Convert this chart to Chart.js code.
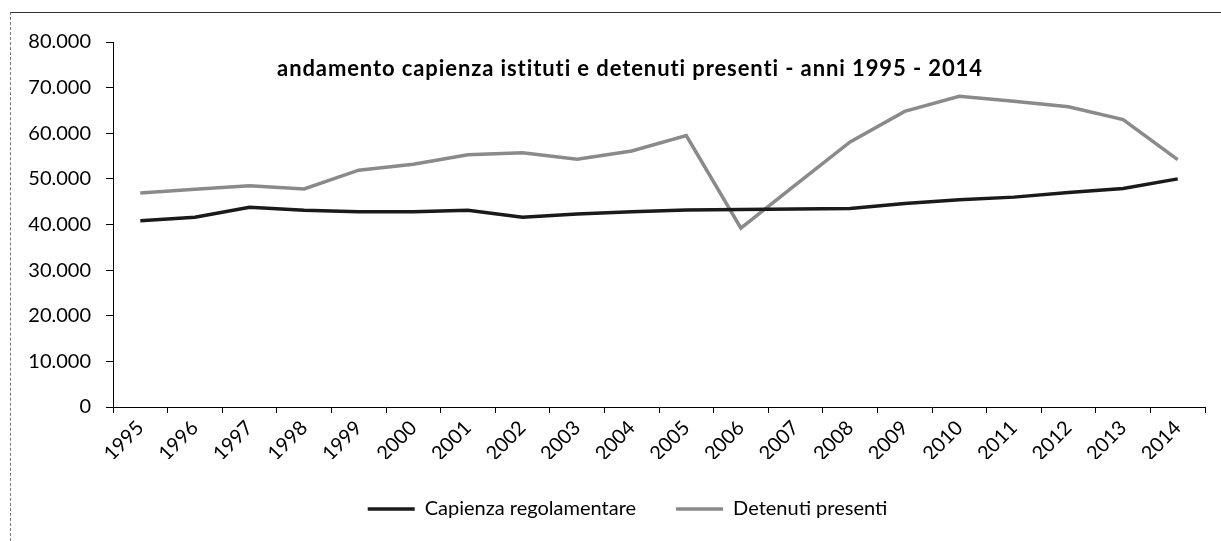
<!DOCTYPE html>
<html>
<head>
<meta charset="utf-8">
<script src="https://cdn.jsdelivr.net/npm/chart.js@4"></script>
<style>
    body { margin: 0; background: #fff; }
    #wrap { position: relative; width: 1221px; height: 541px; overflow: hidden; background: #fff; }
    #frame { position: absolute; left: 10px; top: 12px; right: -5px; bottom: -5px;
             border-left: 1px dashed #777; border-top: 1px solid #333; pointer-events: none; }
    #title { position: absolute; left: 130px; width: 1000px; top: 55px; text-align: center;
             font: bold 22px/26px Lato, "Open Sans", sans-serif; letter-spacing: 0.9px; color: #000; }
</style>
</head>
<body>
<div id="wrap">
    <canvas id="trendChart"></canvas>
    <div id="frame"></div>
    <div id="title">andamento capienza istituti e detenuti presenti - anni 1995 - 2014</div>
</div>
<script>
// anni
const years = ['1995', '1996', '1997', '1998', '1999', '2000', '2001', '2002', '2003', '2004',
               '2005', '2006', '2007', '2008', '2009', '2010', '2011', '2012', '2013', '2014'];

// Capienza regolamentare
const capienza = [40800, 41600, 43800, 43100, 42800, 42800, 43100, 41600, 42300, 42800,
                  43200, 43300, 43400, 43500, 44600, 45400, 46000, 47000, 47900, 50000];

// Detenuti presenti
const detenuti = [46900, 47700, 48500, 47800, 51900, 53200, 55300, 55700, 54300, 56100,
                  59500, 39200, 48700, 58100, 64800, 68100, 67000, 65800, 63000, 54200];

const yTicks = [0, 10000, 20000, 30000, 40000, 50000, 60000, 70000, 80000];

const labelFont = { family: 'Lato', size: 20 };

// 80000 -> "80.000"
function fmt(v) {
    return v.toString().replace(/\B(?=(\d{3})+(?!\d))/g, '.');
}

// legend sits low, with a wide gap between items, a bit right of centre
const legendPlace = {
    id: 'legendPlace',
    beforeLayout(chart) {
        const lg = chart.legend;
        if (lg && !lg._fixed) {
            const fit = lg.fit.bind(lg);
            lg.fit = function() { fit(); this.height = 82; };
            lg._fixed = true;
        }
    },
    afterLayout(chart) {
        if (chart.legend) chart.legend.left += 40;
    }
};

const ctx = document.getElementById('trendChart').getContext('2d');
const trendChart = new Chart(ctx, {
    type: 'line',
    data: {
        labels: years,
        datasets: [{
            label: 'Capienza regolamentare',
            data: capienza,
            borderColor: '#1a1a1a',
            backgroundColor: '#1a1a1a',
            borderWidth: 3.5,
            pointRadius: 0,
            tension: 0
        }, {
            label: 'Detenuti presenti',
            data: detenuti,
            borderColor: '#8a8a8a',
            backgroundColor: '#8a8a8a',
            borderWidth: 3.5,
            pointRadius: 0,
            tension: 0
        }]
    },
    options: {
        responsive: true,
        maintainAspectRatio: false,
        animation: false,
        layout: { padding: { left: 10, right: 16, top: 42, bottom: 0 } },
        plugins: {
            title: { display: false },
            tooltip: { enabled: false },
            legend: {
                position: 'bottom',
                labels: {
                    usePointStyle: true,
                    pointStyle: 'line',
                    pointStyleWidth: 47,
                    padding: 40,
                    color: '#000',
                    font: labelFont
                }
            }
        },
        scales: {
            x: {
                offset: true,
                grid: { offset: true, drawOnChartArea: false, drawTicks: true, tickLength: 6, color: '#000' },
                border: { display: true, color: '#000', width: 1 },
                ticks: { minRotation: 45, maxRotation: 45, padding: 3, color: '#000', font: labelFont },
                afterFit(scale) { scale.height = 52; }
            },
            y: {
                min: 0,
                max: 80000,
                afterBuildTicks(scale) { scale.ticks = yTicks.map(v => ({ value: v })); },
                grid: { drawOnChartArea: false, drawTicks: true, tickLength: 7, color: '#000' },
                border: { display: true, color: '#000', width: 1 },
                ticks: { padding: 15, color: '#000', font: labelFont, callback: v => fmt(v) },
                afterFit(scale) { scale.width = 103; }
            }
        }
    },
    plugins: [legendPlace]
});
</script>
</body>
</html>
